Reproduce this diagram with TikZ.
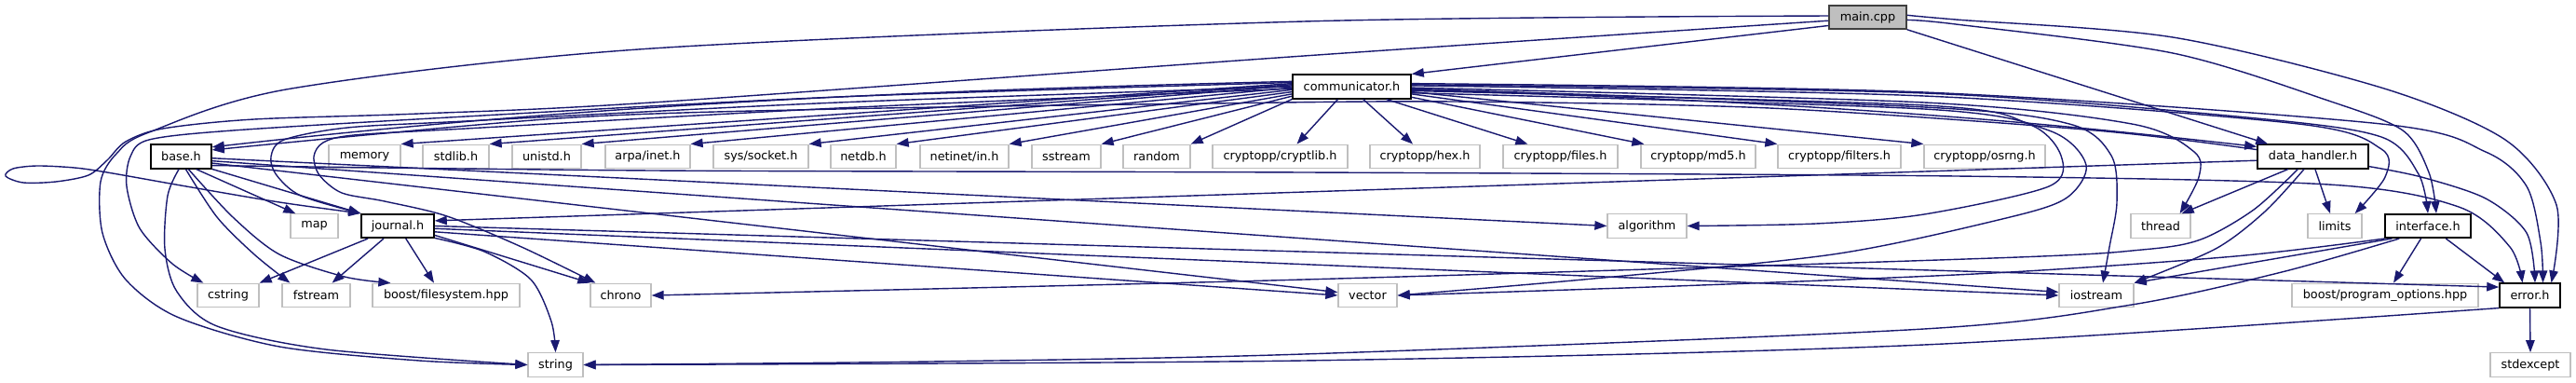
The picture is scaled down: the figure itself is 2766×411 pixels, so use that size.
\documentclass[tikz,border=0pt]{standalone}
\usepackage{fontspec}
\setmainfont{DejaVu Sans}
\usetikzlibrary{arrows.meta}
\definecolor{eblue}{HTML}{191970}
\definecolor{gborder}{HTML}{BFBFBF}
\definecolor{rootfill}{HTML}{BFBFBF}
\definecolor{rootdraw}{HTML}{404040}
\begin{document}
\begin{tikzpicture}[x=1pt,y=-1pt,
  box/.style={draw, rectangle, inner sep=0pt, minimum height=25.5pt, font=\fontsize{12.8}{15}\selectfont, fill=white},
  gbox/.style={box, draw=gborder, line width=1.3pt},
  bbox/.style={box, draw=black, line width=1.6pt},
  rbox/.style={box, draw=rootdraw, fill=rootfill, line width=1.6pt},
  dep/.style={draw=eblue, line width=1.4pt, -{Triangle[length=13pt,width=9.5pt]}},
]
\fill[white] (0,0) rectangle (2766,411);
\useasboundingbox (0,0) rectangle (2766,411);
% nodes
\node[rbox, minimum width=83pt, minimum height=25pt] (main) at (2005.5,18.5) {main.cpp};
\node[bbox, minimum width=127pt] (comm) at (1451.5,93) {communicator.h};
\node[bbox, minimum width=65pt] (base) at (194.5,168) {base.h};
\node[gbox, minimum width=77pt] (memory) at (391.5,168) {memory};
\node[gbox, minimum width=71pt] (stdlib) at (489.5,168) {stdlib.h};
\node[gbox, minimum width=74pt] (unistd) at (587,168) {unistd.h};
\node[gbox, minimum width=91pt] (arpa) at (695.5,168) {arpa/inet.h};
\node[gbox, minimum width=102pt] (socket) at (817,168) {sys/socket.h};
\node[gbox, minimum width=70pt] (netdb) at (927,168) {netdb.h};
\node[gbox, minimum width=95pt] (netin) at (1035.5,168) {netinet/in.h};
\node[gbox, minimum width=74pt] (sstream) at (1145,168) {sstream};
\node[gbox, minimum width=72pt] (random) at (1242,168) {random};
\node[gbox, minimum width=145pt] (cryptlib) at (1374.5,168) {cryptopp/cryptlib.h};
\node[gbox, minimum width=118pt] (hex) at (1530,168) {cryptopp/hex.h};
\node[gbox, minimum width=123pt] (files) at (1675.5,168) {cryptopp/files.h};
\node[gbox, minimum width=123pt] (md5) at (1823.5,168) {cryptopp/md5.h};
\node[gbox, minimum width=132pt] (filters) at (1975,168) {cryptopp/filters.h};
\node[gbox, minimum width=130pt] (osrng) at (2131,168) {cryptopp/osrng.h};
\node[bbox, minimum width=119pt] (dh) at (2483.5,168) {data\_handler.h};
\node[gbox, minimum width=51pt] (map) at (337.5,242.5) {map};
\node[bbox, minimum width=78pt] (journal) at (427,242.5) {journal.h};
\node[gbox, minimum width=85pt] (algo) at (1768.5,242.5) {algorithm};
\node[gbox, minimum width=64pt] (thread) at (2320,242.5) {thread};
\node[gbox, minimum width=58pt] (limits) at (2507,242.5) {limits};
\node[bbox, minimum width=92pt] (iface) at (2607,242.5) {interface.h};
\node[gbox, minimum width=66pt] (cstring) at (245,317) {cstring};
\node[gbox, minimum width=73pt] (fstream) at (339.5,317) {fstream};
\node[gbox, minimum width=158pt] (bfs) at (479,317) {boost/filesystem.hpp};
\node[gbox, minimum width=65pt] (chrono) at (666.5,317) {chrono};
\node[gbox, minimum width=63pt] (vector) at (1468.5,317) {vector};
\node[gbox, minimum width=80pt] (iostream) at (2251,317) {iostream};
\node[gbox, minimum width=200pt] (bpo) at (2561,317) {boost/program\_options.hpp};
\node[bbox, minimum width=65pt] (error) at (2716.5,317) {error.h};
\node[gbox, minimum width=59pt] (string) at (596.5,391.5) {string};
\node[gbox, minimum width=86pt] (stdexcept) at (2717,391.5) {stdexcept};
% main.cpp
\draw[dep] (main.192) -- (comm.north east);
\draw[dep] plot[smooth,tension=.5] coordinates {(main.178) (1400,23) (700,52) (313,95) (160,142) (125,165) (108,195) (110,250) (135,300) (190,340) (300,372) (450,387) (string.west)};
\draw[dep] plot[smooth,tension=.5] coordinates {(main.185) (1400,60) (700,110) (450,122) (273,128) (175,138) (135,152) (115,172) (95,188) (60,195) (25,196) (6,189) (14,181) (40,178) (80,180) (115,185) (200,200) (300,217) (journal.north west)};
\draw[dep] (main.south east) -- ([xshift=12]dh.north west);
\draw[dep] plot[smooth,tension=.5] coordinates {(main.-4) (2100,26) (2333,57) (2500,108) (2580,140) (2608,185) ([xshift=9]iface.north)};
\draw[dep] plot[smooth,tension=.5] coordinates {(main.3) (2100,21) (2333,40) (2560,95) (2690,150) (2745,220) ([xshift=23]error.north)};
% communicator.h, left
\draw[dep] (comm.175) .. controls (1000,97) and (650,110) .. (base.17);
\draw[dep] (comm.177) -- (memory.north east);
\draw[dep] (comm.178) -- (stdlib.north east);
\draw[dep] (comm.179) -- (unistd.north east);
\draw[dep] (comm.181) -- (arpa.north east);
\draw[dep] (comm.183) -- (socket.north east);
\draw[dep] (comm.185) -- (netdb.north east);
\draw[dep] (comm.187) -- (netin.north east);
\draw[dep] (comm.189) -- (sstream.north east);
\draw[dep] (comm.south west) -- (random.north east);
\draw[dep] plot[smooth,tension=.5] coordinates {(comm.176) (900,104) (500,125) (250,140) (160,150) (140,168) (136,200) (150,245) (185,283) ([xshift=7]cstring.north west)};
\draw[dep] plot[smooth,tension=.5] coordinates {(comm.180) (900,110) (500,130) (373,137) (305,150) (291,168) (297,188) (323,210) (journal.north west)};
\draw[dep] plot[smooth,tension=.5] coordinates {(comm.182) (900,116) (500,138) (380,145) (347,153) (337,168) (343,188) (367,207) (413,216) (480,232) (560,265) ([xshift=6]chrono.north west)};
% communicator.h, below
\draw[dep] (comm.-138) -- ([xshift=18]cryptlib.north);
\draw[dep] (comm.-48) -- ([xshift=-13]hex.north);
\draw[dep] (comm.-20) -- ([xshift=27]files.north west);
\draw[dep] (comm.-10) -- ([xshift=4]md5.north west);
\draw[dep] (comm.-7) -- (filters.north west);
\draw[dep] (comm.-5) -- (osrng.north west);
% communicator.h, right
\draw[dep] (comm.-3) .. controls (2000,110) and (2250,138) .. (dh.170);
\draw[dep] plot[smooth,tension=.5] coordinates {(comm.-1) (2066,110) (2289,133) (2356,163) (2361,190) ([xshift=-12]thread.north east)};
\draw[dep] plot[smooth,tension=.5] coordinates {(comm.-2) (2066,115) (2222,133) (2267,167) (2273,217) (2265,265) ([xshift=7]iostream.north)};
\draw[dep] plot[smooth,tension=.5] coordinates {(comm.1) (2066,103) (2468,133) (2557,160) (2561,190) ([xshift=-8]limits.north east)};
\draw[dep] plot[smooth,tension=.5] coordinates {(comm.2) (2066,100) (2423,127) (2557,147) (2597,187) (iface.north)};
\draw[dep] plot[smooth,tension=.5] coordinates {(comm.3) (2066,99) (2557,133) (2669,163) (2713,200) (2728,260) ([xshift=14]error.north)};
\draw[dep] plot[smooth,tension=.5] coordinates {(comm.-4) (2066,113) (2178,133) (2213,167) (2200,200) (2066,230) (1950,240) (algo.east)};
\draw[dep] plot[smooth,tension=.5] coordinates {(comm.-6) (2066,117) (2200,140) (2240,177) (2218,213) (2150,235) (1968,273) (1700,300) (vector.east)};
% base.h
\draw[dep] (base.-40) -- ([xshift=6]map.north west);
\draw[dep] (base.-22) .. controls (290,200) and (340,215) .. (journal.north west);
\draw[dep] plot[smooth,tension=.5] coordinates {(base.-70) (233,233) (273,273) ([xshift=9]fstream.north west)};
\draw[dep] plot[smooth,tension=.5] coordinates {(base.-60) (250,233) (300,273) (370,297) ([xshift=20]bfs.north west)};
\draw[dep] plot[smooth,tension=.5] coordinates {(base.-100) (180,210) (177,267) (190,313) (233,350) (350,375) (string.west)};
\draw[dep] (base.-3) -- (algo.west);
\draw[dep] (base.-8) -- (iostream.175);
\draw[dep] (base.-12) -- (vector.174);
\draw[dep] plot[smooth,tension=.5] coordinates {(base.-16) (700,183) (1400,185) (2100,189) (2500,198) (2640,222) (2695,265) ([xshift=-8]error.north)};
% journal.h
\draw[dep] (journal.-157) -- (cstring.north east);
\draw[dep] (journal.-138) -- ([xshift=-20]fstream.north east);
\draw[dep] (journal.-57) -- ([xshift=-13]bfs.north);
\draw[dep] plot[smooth,tension=.5] coordinates {(journal.-18) (520,270) (570,300) (592,345) (string.north)};
\draw[dep] (journal.-14) -- (chrono.north west);
\draw[dep] (journal.-9) -- (vector.west);
\draw[dep] (journal.-4) -- (iostream.west);
\draw[dep] (journal.east) -- (error.165);
% data_handler.h
\draw[dep] (dh.184) -- (journal.8);
\draw[dep] plot[smooth,tension=.5] coordinates {(dh.173) (2250,140) (1900,116) (1560,109) (1300,111) (900,117) (600,127) (base.12)};
\draw[dep] (dh.-153) -- ([xshift=-10]thread.north east);
\draw[dep] (dh.-80) -- ([xshift=-5]limits.north);
\draw[dep] plot[smooth,tension=.5] coordinates {(dh.-125) (2432,227) (2379,267) (iostream.north east)};
\draw[dep] plot[smooth,tension=.5] coordinates {(dh.-140) (2420,225) (2363,257) (2300,268) (2140,277) (1400,300) (chrono.east)};
\draw[dep] plot[smooth,tension=.5] coordinates {(dh.-10) (2600,190) (2669,213) (2713,250) ([xshift=5.5]error.north)};
% interface.h
\draw[dep] plot[smooth,tension=.5] coordinates {(iface.south west) (2400,275) (2140,293) (1800,307) (vector.east)};
\draw[dep] ([xshift=8]iface.south west) -- (iostream.north east);
\draw[dep] plot[smooth,tension=.5] coordinates {([xshift=16]iface.south west) (2450,292) (2289,327) (2066,353) (1400,380) (1000,388) (string.east)};
\draw[dep] (iface.-119) -- ([xshift=9]bpo.north);
\draw[dep] (iface.-35) -- ([xshift=6]error.north west);
% error.h
\draw[dep] (error.south) -- (stdexcept.north);
\draw[dep] plot[smooth,tension=.5] coordinates {(error.south west) (2066,370) (1400,387) (string.east)};
\end{tikzpicture}
\end{document}
